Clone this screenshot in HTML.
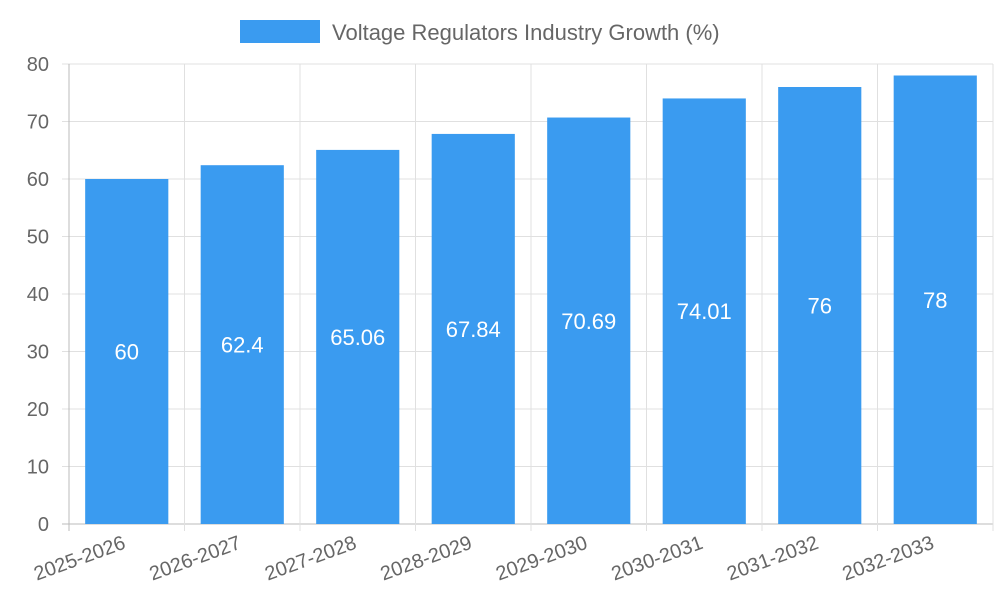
<!DOCTYPE html>
<html><head><meta charset="utf-8"><style>
body{margin:0;background:#fff;font-family:"Liberation Sans",sans-serif}
svg text{font-family:"Liberation Sans",sans-serif}
</style></head><body>
<svg id="chart" width="1000" height="600" xmlns="http://www.w3.org/2000/svg">
<g>
<rect x="240" y="20" width="80" height="23" fill="#3a9bf0"/>
<text x="332" y="40" font-size="22" fill="#666">Voltage Regulators Industry Growth (%)</text>
</g>
<g id="grid"></g>
<g id="bars"></g>
<g id="axes"></g>
</svg>
<script>
const categories=["2025-2026","2026-2027","2027-2028","2028-2029","2029-2030","2030-2031","2031-2032","2032-2033"];
const values=[60,62.4,65.06,67.84,70.69,74.01,76,78];
const yTicks=[0,10,20,30,40,50,60,70,80];
const X0=69,X1=993,Y0=524,Y1=64,YMAX=80;
const NS="http://www.w3.org/2000/svg";
const step=(X1-X0)/categories.length;
const y=v=>Y0-(v/YMAX)*(Y0-Y1);
const x=i=>X0+i*step;
function mk(tag,attrs,parent,text){const e=document.createElementNS(NS,tag);for(const k in attrs)e.setAttribute(k,attrs[k]);if(text!==undefined)e.textContent=text;parent.appendChild(e);return e;}
const grid=document.getElementById('grid'),bars=document.getElementById('bars'),axes=document.getElementById('axes');
yTicks.forEach(t=>{
 const l=mk('line',{x1:X0-7,x2:X1,y1:y(t),y2:y(t),stroke:t===0?'#bbb':'#e0e0e0','stroke-width':1},grid);
 
 
 const tx=mk('text',{x:X0-20,y:y(t)+7,'font-size':20,fill:'#666','text-anchor':'end'},axes,String(t));
 
 
});
for(let i=0;i<=categories.length;i++){
 const l=mk('line',{x1:x(i),x2:x(i),y1:Y1,y2:Y0+7,stroke:i===0?'#bbb':'#e0e0e0','stroke-width':1},grid);
 
 
}
categories.forEach((c,i)=>{
 const bw=step*0.72,bx=x(i)+(step-bw)/2,v=values[i];
 const r=mk('rect',{x:bx,y:y(v),width:bw,height:Y0-y(v),fill:'#3a9bf0'},bars);
 
 
 const t=mk('text',{x:bx+bw/2,y:(y(v)+Y0)/2+8,'font-size':22,fill:'#fff','text-anchor':'middle'},bars,String(v));
 
 
 const cx=x(i)+step/2;
 const lab=mk('text',{x:cx,y:Y0+24,'font-size':20,fill:'#666','text-anchor':'end',transform:'rotate(-20 '+cx+' '+(Y0+24)+')'},axes,c);
 
 
});
</script>
</body></html>
